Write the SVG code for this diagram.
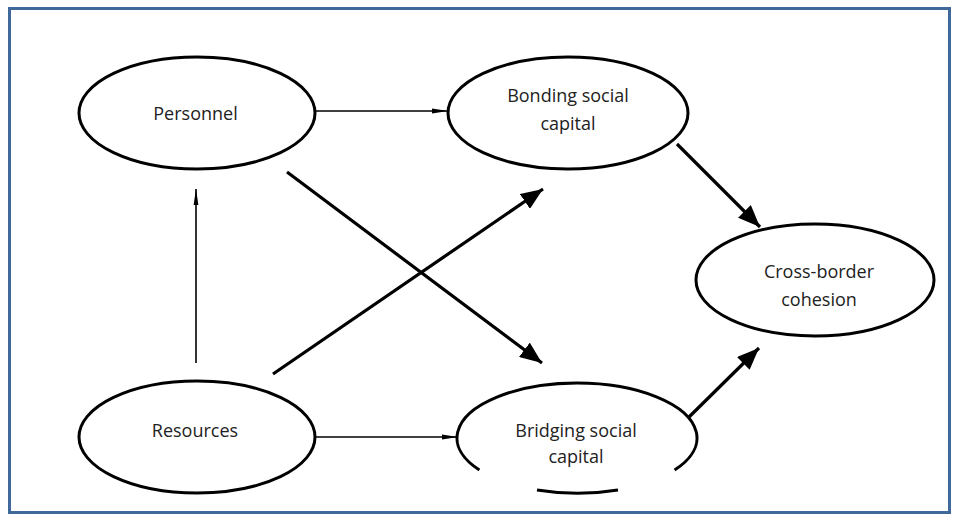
<svg xmlns="http://www.w3.org/2000/svg" width="959" height="515" viewBox="0 0 959 515">
<style>
.node{fill:none;stroke:#000;stroke-width:3}
.lbl{font-family:"Open Sans","Liberation Sans",sans-serif;font-size:18px;fill:#222;text-anchor:middle}
.thin{stroke:#000;stroke-width:1.6;fill:none}
.thick{stroke:#000;stroke-width:3.2;fill:none}
</style>
<defs>
<marker id="hs" viewBox="0 0 16 6" refX="16" refY="3" markerWidth="16" markerHeight="6" markerUnits="userSpaceOnUse" orient="auto">
<path d="M0,0.6 L16,3 L0,5.4 Z" fill="#000"/>
</marker>
<marker id="hb" viewBox="0 0 22 18" refX="22" refY="9" markerWidth="22" markerHeight="18" markerUnits="userSpaceOnUse" orient="auto">
<path d="M0,0 L22,9 L0,18 Z" fill="#000"/>
</marker>
</defs>
<rect x="0" y="0" width="959" height="515" fill="#fff"/>
<rect x="9.5" y="8.5" width="940" height="504" fill="none" stroke="#41689b" stroke-width="3"/>
<g id="personnel">
<ellipse class="node" cx="197" cy="113" rx="118" ry="56"/>
<text class="lbl" x="195.5" y="120">Personnel</text>
</g>
<g id="bonding">
<ellipse class="node" cx="568" cy="113" rx="120" ry="56"/>
<text class="lbl" x="568" y="102">Bonding social</text>
<text class="lbl" x="568" y="130">capital</text>
</g>
<g id="cross">
<ellipse class="node" cx="815" cy="280" rx="119" ry="56"/>
<text class="lbl" x="819" y="278">Cross-border</text>
<text class="lbl" x="819" y="306">cohesion</text>
</g>
<g id="resources">
<ellipse class="node" cx="197" cy="437" rx="118" ry="56"/>
<text class="lbl" x="195" y="437">Resources</text>
</g>
<g id="bridging">
<path class="node" d="M479.4,470 A120,55 0 1 1 674.6,470"/>
<path class="node" d="M537,489.9 A120,55 0 0 0 618,489.9"/>
<text class="lbl" x="576" y="437">Bridging social</text>
<text class="lbl" x="576" y="463">capital</text>
</g>
<g id="connectors">
<line class="thin" x1="316" y1="111" x2="448" y2="111" marker-end="url(#hs)"/>
<line class="thin" x1="196" y1="363" x2="196" y2="189" marker-end="url(#hs)"/>
<line class="thin" x1="316" y1="437" x2="458" y2="437" marker-end="url(#hs)"/>
<line class="thick" x1="273" y1="374" x2="543" y2="189" marker-end="url(#hb)"/>
<line class="thick" x1="287" y1="172" x2="542" y2="363" marker-end="url(#hb)"/>
<line class="thick" x1="677" y1="144" x2="760" y2="227" marker-end="url(#hb)"/>
<line class="thick" x1="689" y1="417" x2="759" y2="348" marker-end="url(#hb)"/>
</g>
</svg>
